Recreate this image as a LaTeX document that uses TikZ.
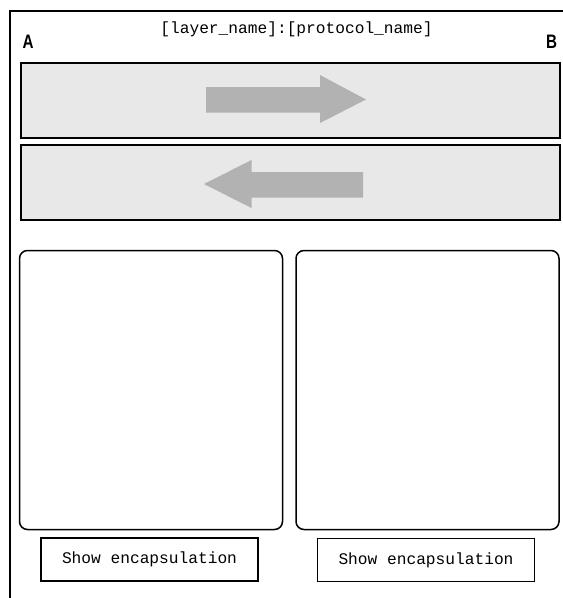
\documentclass[tikz,border=0pt]{standalone}
\usepackage{fontspec}
\setmainfont{Liberation Sans}
\newfontfamily\monofam{Liberation Mono}
\newfontfamily\narrowfam[FakeStretch=0.78]{Liberation Sans}
\begin{document}
\begin{tikzpicture}[x=1pt,y=1pt,
  frameline/.style={line width=2pt},
  channel/.style={draw, line width=1.6pt, fill=gray!18, minimum width=539pt, minimum height=75pt, inner sep=0pt},
  flowarrow/.style={fill=black!30, draw=none},
  panel/.style={draw, line width=1.5pt, rounded corners=8pt, minimum width=263pt, minimum height=279pt, inner sep=0pt},
  button/.style={draw, line width=1.5pt, minimum width=217pt, minimum height=43pt, inner sep=0pt,
    font=\monofam\fontsize{16.2}{18}\selectfont},
  endlabel/.style={font=\narrowfam\bfseries\fontsize{19.5}{22}\selectfont, inner sep=0pt},
  title/.style={font=\monofam\fontsize{16.2}{18}\selectfont, inner sep=0pt}]
\useasboundingbox (0,0) rectangle (563,-598);
\fill[white] (0,0) rectangle (563,-598);

% outer frame (top and left edges)
\coordinate (frameTR) at (563,-11);
\coordinate (frameTL) at (9.5,-11);
\coordinate (frameBL) at (9.5,-598);
\draw[frameline] (frameTR) -- (frameTL) -- (frameBL);

% heading
\node[title] (ttl) at (296.5,-29.5) {[layer\_name]:[protocol\_name]};
\node[endlabel] (ea) at (28,-41.5) {A};
\node[endlabel] (eb) at (551.5,-41.5) {B};

% two directional channels
\node[channel] (ab) at (290.5,-100.5) {};
\node[channel] (ba) at (290.5,-182.5) {};

% A -> B arrow
\fill[flowarrow] (206,-87) -- (320,-87) -- (320,-75) -- (366,-99.5)
  -- (320,-123) -- (320,-112.5) -- (206,-112.5) -- cycle;
% B -> A arrow
\fill[flowarrow] (363,-172) -- (251.5,-172) -- (251.5,-160) -- (204,-184)
  -- (251.5,-208) -- (251.5,-197.5) -- (363,-197.5) -- cycle;

% endpoint panels
\node[panel] (pa) at (151,-390) {};
\node[panel] (pb) at (427.5,-390) {};

% buttons
\node[button] (sa) at (149.5,-559.5) {Show encapsulation};
\node[button] (sb) at (426,-560) {Show encapsulation};
\end{tikzpicture}
\end{document}
